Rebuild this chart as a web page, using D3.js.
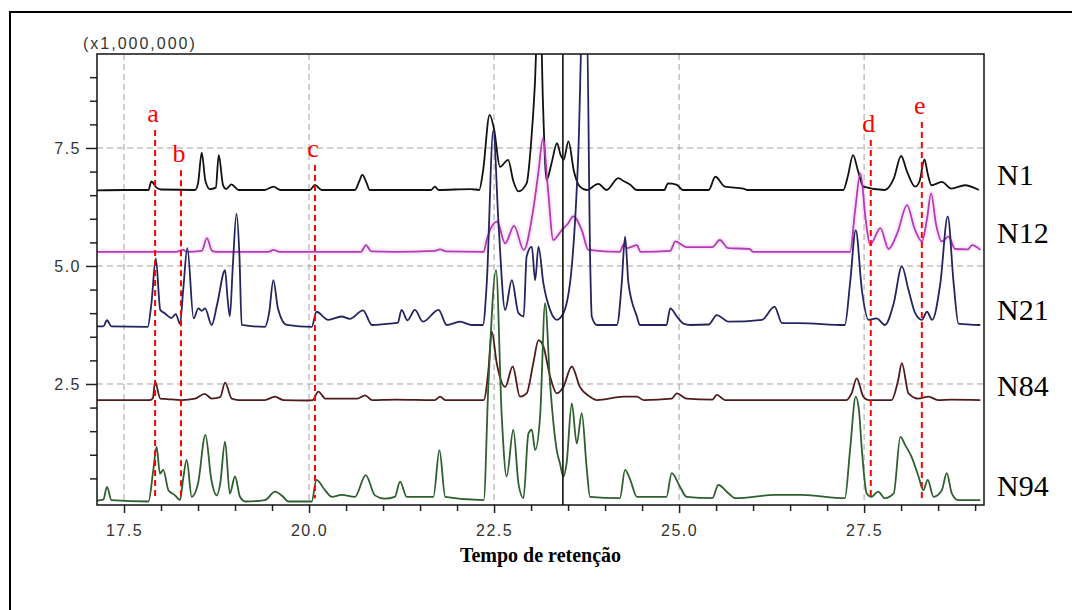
<!DOCTYPE html>
<html>
<head>
<meta charset="utf-8">
<script src="https://cdn.jsdelivr.net/npm/d3@7"></script>
<style>
  html, body { margin: 0; padding: 0; background: #fff; }
  svg { display: block; }
</style>
</head>
<body>
<svg id="chart" width="1072" height="610"></svg>
<script>
// chromatogram traces, [retention time, intensity x1e6]
const n1 = [[17.13,6.60],[17.50,6.61],[17.83,6.61],[17.87,6.79],[17.94,6.66],[18.0,6.62],[18.46,6.61],[18.50,6.75],[18.55,7.40],[18.60,6.80],[18.66,6.63],[18.74,6.66],[18.78,7.35],[18.84,6.70],[18.88,6.63],[18.95,6.73],[19.05,6.61],[19.40,6.61],[19.52,6.68],[19.61,6.61],[20.01,6.61],[20.08,6.72],[20.17,6.61],[20.62,6.61],[20.68,6.80],[20.72,6.93],[20.78,6.75],[20.82,6.61],[21.16,6.61],
  [21.65,6.61],[21.70,6.68],[21.75,6.61],[22.18,6.63],[22.30,6.61],[22.35,7.0],[22.44,8.20],[22.50,7.9],[22.58,7.10],[22.69,7.25],[22.76,6.80],[22.83,6.58],[22.94,6.75],[23.0,7.6],[23.05,8.8],[23.09,10.2],[23.13,10.2],[23.16,8.5],[23.21,6.82],[23.28,7.2],[23.35,7.60],[23.40,7.35],[23.44,7.25],[23.505,7.64],[23.58,7.0],[23.66,6.68],[23.75,6.61],[23.91,6.74],[24.02,6.61],[24.18,6.86],[24.25,6.80],[24.34,6.72],[24.43,6.61],[24.80,6.61],[24.85,6.75],[24.97,6.72],[25.05,6.61],
  [25.40,6.61],[25.49,6.89],[25.62,6.68],[25.87,6.64],[25.92,6.61],[27.22,6.61],[27.28,6.9],[27.35,7.35],[27.42,7.0],[27.49,6.68],[27.78,6.61],[27.90,6.85],[28.0,7.33],[28.08,7.0],[28.19,6.68],[28.25,6.8],[28.315,7.26],[28.36,6.95],[28.41,6.71],[28.55,6.78],[28.68,6.64],[28.86,6.71],[29.05,6.61]];

const n12 = [[17.13,5.30],[18.20,5.30],[18.30,5.34],[18.35,5.30],[18.55,5.32],[18.62,5.59],[18.69,5.32],[18.75,5.30],[19.45,5.30],[19.52,5.34],[19.60,5.30],[20.70,5.30],[20.77,5.44],[20.84,5.31],[21.16,5.30],
  [21.70,5.32],[21.77,5.35],[21.85,5.31],[22.36,5.30],[22.40,5.55],[22.54,5.94],[22.65,5.48],[22.77,5.85],[22.90,5.34],[23.03,6.20],[23.10,7.0],[23.16,7.70],[23.23,6.6],[23.30,5.55],[23.415,5.76],[23.50,5.9],[23.57,6.05],[23.685,5.76],[23.775,5.34],[24.20,5.30],[24.25,5.45],[24.30,5.38],[24.43,5.44],[24.48,5.30],[24.88,5.32],[24.95,5.52],[25.10,5.40],
  [25.45,5.40],[25.55,5.55],[25.66,5.38],[25.95,5.36],[26.0,5.30],[27.31,5.30],[27.38,6.2],[27.45,6.96],[27.52,6.0],[27.58,5.45],[27.72,5.80],[27.83,5.36],[27.95,5.7],[28.08,6.29],[28.18,5.8],[28.28,5.52],[28.35,6.0],[28.405,6.54],[28.47,5.9],[28.55,5.52],[28.64,5.62],[28.73,5.36],[28.90,5.35],[28.96,5.44],[29.07,5.34]];

const n21 = [[17.13,3.72],[17.22,3.72],[17.27,3.85],[17.33,3.72],[17.82,3.71],[17.87,4.2],[17.93,5.16],[17.99,4.07],[18.05,4.0],[18.14,3.90],[18.20,3.98],[18.257,3.77],[18.30,4.5],[18.356,5.38],[18.44,3.89],[18.505,4.10],[18.55,4.05],[18.595,4.10],[18.685,3.75],[18.76,4.2],[18.865,4.91],[18.90,4.3],[18.93,3.93],[18.97,5.0],[19.02,6.11],[19.06,5.2],[19.09,3.75],[19.405,3.71],[19.46,4.0],[19.518,4.70],[19.58,4.1],[19.70,3.75],[20.036,3.71],[20.10,4.03],[20.26,3.86],[20.44,3.93],[20.55,3.88],[20.73,4.06],[20.85,3.75],[21.10,3.78],
  [21.20,3.80],[21.25,4.07],[21.33,3.85],[21.43,4.07],[21.54,3.82],[21.75,4.07],[21.86,3.75],[22.04,3.82],[22.20,3.75],[22.35,3.75],[22.40,4.6],[22.49,7.88],[22.56,5.9],[22.65,4.07],[22.74,4.70],[22.83,4.0],[22.90,3.93],[22.94,5.2],[23.01,5.41],[23.055,4.70],[23.10,5.41],[23.167,4.63],[23.257,4.07],[23.347,3.86],[23.437,4.0],[23.55,4.99],[23.64,7.46],[23.70,10.5],[23.75,10.5],[23.80,5.0],[23.82,3.93],[23.89,3.75],[24.16,3.75],[24.225,4.63],[24.27,5.62],[24.316,4.63],[24.43,3.93],[24.47,3.75],[24.83,3.75],[24.88,4.1],[24.97,3.93],[25.06,3.78],[25.15,3.75],
  [25.40,3.76],[25.51,3.96],[25.67,3.82],[26.12,3.86],[26.29,4.14],[26.39,3.79],[26.62,3.79],[27.24,3.75],[27.31,4.63],[27.387,5.76],[27.47,4.49],[27.56,3.86],[27.67,3.89],[27.78,3.75],[27.90,4.21],[28.01,4.99],[28.10,4.49],[28.19,4.0],[28.28,3.86],[28.35,4.03],[28.42,3.86],[28.53,4.63],[28.63,6.05],[28.71,4.63],[28.775,3.78],[29.07,3.75]];

const n84 = [[17.13,2.16],[17.85,2.16],[17.89,2.2],[17.92,2.55],[17.99,2.19],[18.08,2.18],[18.28,2.16],[18.46,2.19],[18.59,2.29],[18.685,2.19],[18.80,2.22],[18.865,2.53],[18.955,2.19],[19.05,2.16],[19.40,2.16],[19.54,2.23],[19.65,2.16],[19.99,2.15],[20.05,2.16],[20.126,2.34],[20.22,2.19],[20.65,2.19],[20.757,2.26],[20.85,2.16],[21.16,2.17],
  [21.70,2.16],[21.77,2.23],[21.84,2.16],[22.36,2.16],[22.424,2.80],[22.469,3.61],[22.536,2.94],[22.65,2.44],[22.752,2.87],[22.85,2.23],[22.94,2.30],[23.03,2.94],[23.10,3.43],[23.167,3.29],[23.257,2.66],[23.347,2.30],[23.437,2.44],[23.55,2.87],[23.66,2.44],[23.797,2.23],[23.89,2.16],[24.25,2.23],[24.43,2.23],[24.52,2.16],[24.90,2.19],[24.97,2.30],[25.10,2.19],
  [25.45,2.17],[25.51,2.27],[25.62,2.16],[27.26,2.16],[27.33,2.30],[27.40,2.62],[27.49,2.23],[27.56,2.16],[27.87,2.16],[27.96,2.58],[28.01,2.94],[28.10,2.30],[28.23,2.19],[28.37,2.23],[28.50,2.16],[28.68,2.17],[29.07,2.16]];

const n94 = [[17.13,0.03],[17.22,0.05],[17.27,0.32],[17.33,0.04],[17.83,0.01],[17.896,0.68],[17.94,1.17],[17.986,0.60],[18.03,0.68],[18.10,0.25],[18.19,0.14],[18.257,0.04],[18.30,0.5],[18.347,0.89],[18.415,0.11],[18.50,0.39],[18.60,1.42],[18.68,0.47],[18.752,0.14],[18.80,0.39],[18.865,1.28],[18.93,0.18],[19.00,0.54],[19.067,0.11],[19.14,0.01],[19.405,0.04],[19.54,0.22],[19.65,0.11],[19.72,0.01],[20.036,0.01],[20.10,0.47],[20.216,0.25],[20.31,0.11],[20.44,0.15],[20.62,0.11],[20.766,0.57],[20.89,0.14],[21.02,0.07],[21.16,0.11],
  [21.23,0.43],[21.32,0.11],[21.68,0.11],[21.762,1.10],[21.84,0.11],[22.36,0.04],[22.424,2.51],[22.527,4.91],[22.604,1.81],[22.67,0.54],[22.76,1.53],[22.83,0.39],[22.897,0.08],[22.964,1.45],[23.01,1.53],[23.055,1.10],[23.122,1.81],[23.19,4.21],[23.257,2.51],[23.347,1.10],[23.39,0.82],[23.437,0.54],[23.48,0.82],[23.55,2.09],[23.617,1.24],[23.685,1.88],[23.75,0.75],[23.797,0.11],[24.20,0.08],[24.27,0.68],[24.34,0.47],[24.43,0.11],[24.83,0.11],[24.90,0.61],[25.01,0.33],[25.10,0.11],
  [25.45,0.08],[25.53,0.36],[25.67,0.18],[25.76,0.08],[26.30,0.15],[26.66,0.15],[27.24,0.08],[27.31,1.10],[27.387,2.23],[27.43,1.95],[27.47,1.10],[27.535,0.18],[27.60,0.11],[27.69,0.22],[27.78,0.08],[27.90,0.18],[27.99,1.38],[28.054,1.21],[28.14,0.96],[28.235,0.54],[28.30,0.25],[28.36,0.47],[28.437,0.11],[28.55,0.25],[28.617,0.61],[28.685,0.18],[28.77,0.04],[29.07,0.04]];

const seriesNames = ['N1', 'N12', 'N21', 'N84', 'N94'];
const seriesData = [n1, n12, n21, n84, n94];
const seriesColors = ['#111111', '#b23cb4', '#24245e', '#4e1c1c', '#2e5f2e'];
const labelValues = [6.92, 5.70, 4.06, 2.45, 0.33];   // where each trace name sits

// marker lines a-e: [retention time, top of line]
const markerNames = ['a', 'b', 'c', 'd', 'e'];
const markerTimes = [17.92, 18.27, 20.08, 27.59, 28.28];
const markerTops = [7.88, 7.03, 7.14, 7.67, 8.05];

const cursorTime = 23.43;
const xMajor = [17.5, 20.0, 22.5, 25.0, 27.5];
const yMajor = [2.5, 5.0, 7.5];

const svg = d3.select('#chart');
const L = 97, R = 984, T = 54, B = 505;
const x = d3.scaleLinear().domain([17.135, 29.12]).range([L, R]);
const y = d3.scaleLinear().domain([-0.064, 9.491]).range([B, T]);

// outer frame of the figure (only left and top edges fall inside the picture)
svg.append('path').attr('d', 'M10,610V12H1072').attr('fill', 'none')
  .attr('stroke', '#000').attr('stroke-width', 2);

svg.append('defs').append('clipPath').attr('id', 'plot-clip')
  .append('rect').attr('x', L).attr('y', T).attr('width', R - L).attr('height', B - T);

// grid
const grid = svg.append('g');
grid.selectAll('line.vx').data(xMajor).join('line')
  .attr('x1', d => x(d)).attr('x2', d => x(d)).attr('y1', T).attr('y2', B)
  .attr('stroke', '#a0a0a0').attr('stroke-dasharray', '6,4');
grid.selectAll('line.hy').data(yMajor).join('line')
  .attr('x1', L).attr('x2', R).attr('y1', d => y(d)).attr('y2', d => y(d))
  .attr('stroke', '#a0a0a0').attr('stroke-dasharray', '6,4');

// traces
const line = d3.line().curve(d3.curveMonotoneX).x(d => x(d[0])).y(d => y(d[1]));
const traces = svg.append('g').attr('clip-path', 'url(#plot-clip)');
traces.append('path').attr('d', line(n12)).attr('fill', 'none')
  .attr('stroke', '#f4c6f0').attr('stroke-width', 6).attr('stroke-opacity', 0.35);
seriesData.forEach((s, i) => {
  traces.append('path').attr('d', line(s)).attr('fill', 'none')
    .attr('stroke', seriesColors[i]).attr('stroke-width', 1.8).attr('stroke-linejoin', 'round');
});
// cursor line
traces.append('line').attr('x1', x(cursorTime)).attr('x2', x(cursorTime)).attr('y1', T).attr('y2', B)
  .attr('stroke', '#111').attr('stroke-width', 1.6);

// axes
const fontAxis = 'Arial, "Liberation Sans", sans-serif';
const xAxis = d3.axisBottom(x).tickValues(d3.range(17.5, 29.01, 0.5)).tickSize(6)
  .tickFormat(d => xMajor.includes(d) ? d.toFixed(1) : '');
const gx = svg.append('g').attr('transform', `translate(0,${B})`).call(xAxis);
gx.select('.domain').remove();
gx.selectAll('.tick line').attr('stroke', '#222').attr('stroke-width', 1.5)
  .attr('y2', d => xMajor.includes(d) ? 8 : 6);
gx.selectAll('.tick text').attr('y', 31).attr('dy', 0).attr('font-family', fontAxis).attr('font-size', 16)
  .attr('letter-spacing', 1.5).attr('fill', '#333');

const yAxis = d3.axisLeft(y).tickValues(d3.range(0.5, 9.01, 0.5)).tickSize(7)
  .tickFormat(d => yMajor.includes(d) ? d.toFixed(1) : '');
const gy = svg.append('g').attr('transform', `translate(${L},0)`).call(yAxis);
gy.select('.domain').remove();
gy.selectAll('.tick line').attr('stroke', '#222').attr('stroke-width', 1.5)
  .attr('x2', d => yMajor.includes(d) ? -11 : -7);
gy.selectAll('.tick text').attr('x', -16).attr('font-family', fontAxis).attr('font-size', 16)
  .attr('letter-spacing', 1.5).attr('fill', '#333');

svg.append('rect').attr('x', L).attr('y', T).attr('width', R - L).attr('height', B - T)
  .attr('fill', 'none').attr('stroke', '#111').attr('stroke-width', 1.5);

svg.append('text').attr('x', 83).attr('y', 49).attr('font-family', fontAxis).attr('font-size', 16)
  .attr('letter-spacing', 2).attr('fill', '#333').text('(x1,000,000)');

// red marker lines
const fontSerif = '"Liberation Serif", "Times New Roman", serif';
markerTimes.forEach((t, i) => {
  svg.append('line').attr('x1', x(t)).attr('x2', x(t)).attr('y1', y(markerTops[i])).attr('y2', y(0.08))
    .attr('stroke', '#ff0000').attr('stroke-width', 2).attr('stroke-dasharray', '6,4');
  svg.append('text').attr('x', x(t) - 2).attr('y', y(markerTops[i]) - 8).attr('text-anchor', 'middle')
    .attr('font-family', fontSerif).attr('font-size', 26).attr('fill', '#ff0000').text(markerNames[i]);
});

// trace names
seriesNames.forEach((n, i) => {
  svg.append('text').attr('x', 997).attr('y', y(labelValues[i]) + 10)
    .attr('font-family', fontSerif).attr('font-size', 30).attr('fill', '#000').text(n);
});

svg.append('text').attr('x', (L + R) / 2).attr('y', 562).attr('text-anchor', 'middle')
  .attr('font-family', fontSerif).attr('font-size', 20).attr('font-weight', 'bold')
  .text('Tempo de retenção');
</script>
</body>
</html>
